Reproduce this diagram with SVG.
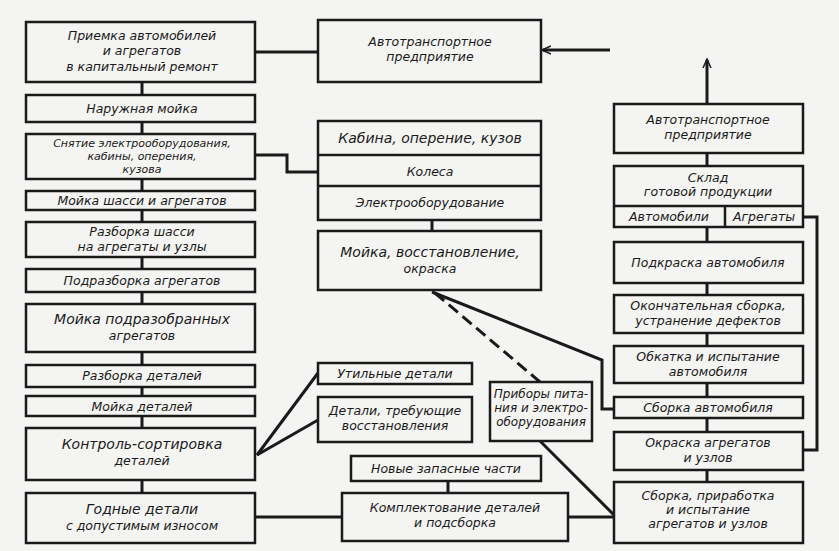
<svg xmlns="http://www.w3.org/2000/svg" width="839" height="551" viewBox="0 0 839 551">
<style>
rect{fill:none;stroke:#1a1a1a;stroke-width:2.5}
text{font-family:"DejaVu Sans",sans-serif;font-style:italic;font-size:12.5px;fill:#1a1a1a;text-anchor:middle}
.c line,.c polyline{stroke:#1a1a1a;stroke-width:3;fill:none}
</style>
<defs><marker id="a" markerWidth="10" markerHeight="10" refX="8" refY="5" orient="auto" markerUnits="userSpaceOnUse"><path d="M0,1 L9,5 L0,9" fill="none" stroke="#1a1a1a" stroke-width="1.5"/></marker></defs>
<rect x="0" y="0" width="839" height="551" style="fill:#f4f4f2;stroke:none"/>
<g class="c">
<line x1="142" y1="82" x2="142" y2="493"/>
<line x1="255" y1="52" x2="318" y2="52"/>
<polyline points="255,155 287,155 287,172 318,172"/>
<line x1="432" y1="220" x2="432" y2="231"/>
<line x1="610" y1="50" x2="543" y2="50" marker-end="url(#a)"/>
<line x1="707" y1="104" x2="707" y2="60" marker-end="url(#a)"/>
<line x1="707" y1="153" x2="707" y2="482"/>
<polyline points="803,217 817,217 817,450 803,450"/>
<polyline points="432,292 602,360 602,409 614,409"/>
<line x1="435" y1="293" x2="540" y2="382" stroke-dasharray="12,6"/>
<line x1="540" y1="441" x2="614" y2="515"/>
<line x1="568" y1="517" x2="614" y2="517"/>
<line x1="448" y1="481" x2="448" y2="493"/>
<line x1="255" y1="517" x2="342" y2="517"/>
<line x1="257" y1="455" x2="318" y2="373"/>
<line x1="257" y1="455" x2="318" y2="420"/>
</g>
<g id="n1"><rect x="26" y="22" width="229" height="60" style="fill:#f4f4f2"/><text x="142" y="40">Приемка автомобилей</text><text x="142" y="55">и агрегатов</text><text x="142" y="71">в капитальный ремонт</text></g>
<g id="n2"><rect x="26" y="95" width="229" height="27" style="fill:#f4f4f2"/><text x="142" y="113">Наружная мойка</text></g>
<g id="n3"><rect x="26" y="134" width="229" height="45" style="fill:#f4f4f2"/><text x="142" y="147" style="font-size:11px">Снятие электрооборудования,</text><text x="142" y="160" style="font-size:11px">кабины, оперения,</text><text x="142" y="173" style="font-size:11px">кузова</text></g>
<g id="n4"><rect x="26" y="191" width="229" height="19" style="fill:#f4f4f2"/><text x="142" y="205">Мойка шасси и агрегатов</text></g>
<g id="n5"><rect x="26" y="222" width="229" height="35" style="fill:#f4f4f2"/><text x="142" y="236">Разборка шасси</text><text x="142" y="251">на агрегаты и узлы</text></g>
<g id="n6"><rect x="26" y="269" width="229" height="23" style="fill:#f4f4f2"/><text x="142" y="285">Подразборка агрегатов</text></g>
<g id="n7"><rect x="26" y="304" width="229" height="48" style="fill:#f4f4f2"/><text x="142" y="324" style="font-size:14px">Мойка подразобранных</text><text x="142" y="340">агрегатов</text></g>
<g id="n8"><rect x="26" y="365" width="229" height="22" style="fill:#f4f4f2"/><text x="142" y="380">Разборка деталей</text></g>
<g id="n9"><rect x="26" y="396" width="229" height="20" style="fill:#f4f4f2"/><text x="142" y="411">Мойка деталей</text></g>
<g id="n10"><rect x="26" y="428" width="229" height="52" style="fill:#f4f4f2"/><text x="142" y="449" style="font-size:14px">Контроль-сортировка</text><text x="142" y="465">деталей</text></g>
<g id="n11"><rect x="26" y="493" width="229" height="50" style="fill:#f4f4f2"/><text x="142" y="514" style="font-size:14px">Годные детали</text><text x="142" y="530">с допустимым износом</text></g>
<g id="n12"><rect x="318" y="20" width="223" height="62" style="fill:#f4f4f2"/><text x="430" y="46">Автотранспортное</text><text x="430" y="61">предприятие</text></g>
<g id="n13"><rect x="318" y="121" width="223" height="99" style="fill:#f4f4f2"/><line x1="318" y1="155" x2="541" y2="155" stroke="#1a1a1a" stroke-width="2.5"/><line x1="318" y1="186" x2="541" y2="186" stroke="#1a1a1a" stroke-width="2.5"/><text x="430" y="143" style="font-size:14px">Кабина, оперение, кузов</text><text x="430" y="176">Колеса</text><text x="430" y="207">Электрооборудование</text></g>
<g id="n14"><rect x="318" y="231" width="223" height="59" style="fill:#f4f4f2"/><text x="430" y="257" style="font-size:14px">Мойка, восстановление,</text><text x="430" y="273">окраска</text></g>
<g id="n15"><rect x="318" y="363" width="154" height="21" style="fill:#f4f4f2"/><text x="395" y="378">Утильные детали</text></g>
<g id="n16"><rect x="318" y="397" width="154" height="45" style="fill:#f4f4f2"/><text x="395" y="415">Детали, требующие</text><text x="395" y="430">восстановления</text></g>
<g id="n17"><rect x="351" y="456" width="190" height="25" style="fill:#f4f4f2"/><text x="446" y="473">Новые запасные части</text></g>
<g id="n18"><rect x="342" y="493" width="226" height="48" style="fill:#f4f4f2"/><text x="455" y="512">Комплектование деталей</text><text x="455" y="527">и подсборка</text></g>
<g id="n19"><rect x="490" y="382" width="102" height="59" style="fill:#f4f4f2"/><text x="541" y="398" style="font-size:12px">Приборы пита-</text><text x="541" y="412" style="font-size:12px">ния и электро-</text><text x="541" y="426" style="font-size:12px">оборудования</text></g>
<g id="n20"><rect x="614" y="104" width="189" height="49" style="fill:#f4f4f2"/><text x="708" y="124">Автотранспортное</text><text x="708" y="139">предприятие</text></g>
<g id="n21"><rect x="614" y="166" width="189" height="61" style="fill:#f4f4f2"/><line x1="614" y1="206" x2="803" y2="206" stroke="#1a1a1a" stroke-width="2.5"/><line x1="725" y1="206" x2="725" y2="227" stroke="#1a1a1a" stroke-width="2.5"/><text x="708" y="182">Склад</text><text x="708" y="196">готовой продукции</text><text x="669" y="221">Автомобили</text><text x="764" y="221">Агрегаты</text></g>
<g id="n22"><rect x="614" y="242" width="189" height="41" style="fill:#f4f4f2"/><text x="708" y="267">Подкраска автомобиля</text></g>
<g id="n23"><rect x="614" y="295" width="189" height="38" style="fill:#f4f4f2"/><text x="708" y="310">Окончательная сборка,</text><text x="708" y="325">устранение дефектов</text></g>
<g id="n24"><rect x="614" y="346" width="189" height="37" style="fill:#f4f4f2"/><text x="708" y="361">Обкатка и испытание</text><text x="708" y="376">автомобиля</text></g>
<g id="n25"><rect x="614" y="397" width="189" height="21" style="fill:#f4f4f2"/><text x="708" y="412">Сборка автомобиля</text></g>
<g id="n26"><rect x="614" y="432" width="189" height="38" style="fill:#f4f4f2"/><text x="708" y="447">Окраска агрегатов</text><text x="708" y="462">и узлов</text></g>
<g id="n27"><rect x="614" y="482" width="189" height="61" style="fill:#f4f4f2"/><text x="708" y="500">Сборка, приработка</text><text x="708" y="514">и испытание</text><text x="708" y="528">агрегатов и узлов</text></g>
</svg>
